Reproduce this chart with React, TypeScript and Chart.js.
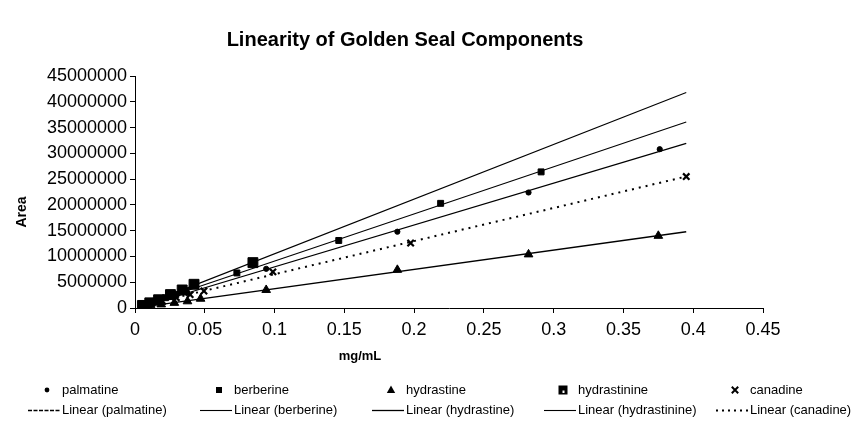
import React, { useEffect, useRef } from "react";
import { Chart, registerables } from "chart.js";

Chart.register(...registerables);

const FONT = '"Liberation Sans", Arial, Helvetica, sans-serif';

const TITLE = "Linearity of Golden Seal Components";
const X_TITLE = "mg/mL";
const Y_TITLE = "Area";

const seriesNames = ["palmatine", "berberine", "hydrastine", "hydrastinine", "canadine"];

const palmatineX = [0.0047, 0.0094, 0.0188, 0.0282, 0.0376, 0.094, 0.188, 0.282, 0.376];
const palmatineY = [300000, 700000, 1400000, 2200000, 2900000, 7600000, 14800000, 22400000, 30800000];

const berberineX = [0.0073, 0.0146, 0.0219, 0.0292, 0.0365, 0.073, 0.146, 0.219, 0.291];
const berberineY = [600000, 1300000, 2000000, 2600000, 3300000, 6800000, 13100000, 20300000, 26400000];

const hydrastineX = [0.0094, 0.0188, 0.0282, 0.0376, 0.047, 0.094, 0.188, 0.282, 0.375];
const hydrastineY = [350000, 700000, 1000000, 1300000, 1800000, 3500000, 7400000, 10400000, 14000000];

const hydrastinineX = [0.0053, 0.0106, 0.0169, 0.0254, 0.0338, 0.0423, 0.0845];
const hydrastinineY = [500000, 1000000, 1600000, 2600000, 3500000, 4600000, 8800000];

const canadineX = [0.0099, 0.0198, 0.0296, 0.0395, 0.0494, 0.0988, 0.1975, 0.395];
const canadineY = [700000, 1300000, 2000000, 2600000, 3300000, 7000000, 12600000, 25500000];

const xTickValues = [0, 0.05, 0.1, 0.15, 0.2, 0.25, 0.3, 0.35, 0.4, 0.45];
const yTickValues = [0, 5000000, 10000000, 15000000, 20000000, 25000000, 30000000, 35000000, 40000000, 45000000];

const seriesX = [palmatineX, berberineX, hydrastineX, hydrastinineX, canadineX];
const seriesY = [palmatineY, berberineY, hydrastineY, hydrastinineY, canadineY];

// marker styles per series
const markerStyles = [
  { pointStyle: "circle", radius: 2.6, borderWidth: 1 },
  { pointStyle: "rect", radius: 4.2, borderWidth: 1 },
  { pointStyle: "triangle", radius: 5, borderWidth: 1 },
  { pointStyle: "rect", radius: 7, borderWidth: 1 },
  { pointStyle: "crossRot", radius: 4.5, borderWidth: 2.2 },
];
const trendStyles = [
  { dash: [], width: 1.3, legendDash: [4, 1.5] },
  { dash: [], width: 1.1, legendDash: [] },
  { dash: [], width: 1.3, legendDash: [] },
  { dash: [], width: 1.1, legendDash: [] },
  { dash: [2, 5], width: 2, legendDash: [2, 4] },
];

function linFit(xs: number[], ys: number[]) {
  const n = xs.length;
  const mx = xs.reduce((a, b) => a + b, 0) / n;
  const my = ys.reduce((a, b) => a + b, 0) / n;
  let sxy = 0;
  let sxx = 0;
  for (let i = 0; i < n; i++) {
    sxy += (xs[i] - mx) * (ys[i] - my);
    sxx += (xs[i] - mx) * (xs[i] - mx);
  }
  const slope = sxy / sxx;
  return { slope, intercept: my - slope * mx };
}

const allX = seriesX.flat();
const trendStart = Math.min(...allX);
const trendEnd = Math.max(...allX);

function drawMarker(ctx: CanvasRenderingContext2D, idx: number, x: number, y: number) {
  ctx.save();
  ctx.fillStyle = "#000";
  ctx.strokeStyle = "#000";
  if (idx === 0) {
    ctx.beginPath();
    ctx.arc(x, y, 2.4, 0, Math.PI * 2);
    ctx.fill();
  } else if (idx === 1) {
    ctx.fillRect(x - 3, y - 3, 6, 6);
  } else if (idx === 2) {
    ctx.beginPath();
    ctx.moveTo(x, y - 4.5);
    ctx.lineTo(x + 4.2, y + 3);
    ctx.lineTo(x - 4.2, y + 3);
    ctx.closePath();
    ctx.fill();
  } else if (idx === 3) {
    ctx.fillRect(x - 4.5, y - 4.5, 9, 9);
    ctx.fillStyle = "#fff";
    ctx.fillRect(x - 0.5, y + 0.5, 2, 2.5);
  } else {
    ctx.lineWidth = 2;
    ctx.beginPath();
    ctx.moveTo(x - 3.2, y - 3.2);
    ctx.lineTo(x + 3.2, y + 3.2);
    ctx.moveTo(x + 3.2, y - 3.2);
    ctx.lineTo(x - 3.2, y + 3.2);
    ctx.stroke();
  }
  ctx.restore();
}

const decorPlugin = {
  id: "decor",
  afterDraw(chart: any) {
    const ctx: CanvasRenderingContext2D = chart.ctx;
    ctx.save();
    ctx.fillStyle = "#000";
    ctx.textAlign = "center";
    ctx.textBaseline = "middle";
    ctx.font = `bold 20px ${FONT}`;
    ctx.fillText(TITLE, 405, 40);
    ctx.font = `bold 13px ${FONT}`;
    ctx.fillText(X_TITLE, 360, 356);
    ctx.save();
    ctx.translate(22, 212);
    ctx.rotate(-Math.PI / 2);
    ctx.font = `bold 14px ${FONT}`;
    ctx.fillText(Y_TITLE, 0, 0);
    ctx.restore();

    // legend
    const colW = 172;
    const row1 = 390;
    const row2 = 410;
    ctx.font = `13px ${FONT}`;
    ctx.textAlign = "left";
    for (let i = 0; i < seriesNames.length; i++) {
      const cx = i * colW;
      drawMarker(ctx, i, cx + 47, row1);
      ctx.fillStyle = "#000";
      ctx.fillText(seriesNames[i], cx + 62, row1);
      ctx.save();
      ctx.strokeStyle = "#000";
      ctx.lineWidth = trendStyles[i].width;
      ctx.setLineDash(trendStyles[i].legendDash);
      ctx.beginPath();
      ctx.moveTo(cx + 28, row2 + 0.5);
      ctx.lineTo(cx + 60, row2 + 0.5);
      ctx.stroke();
      ctx.restore();
      ctx.fillText(`Linear (${seriesNames[i]})`, cx + 62, row2);
    }
    ctx.restore();
  },
};

export default function App() {
  const ref = useRef<HTMLCanvasElement>(null);
  useEffect(() => {
    if (!ref.current) return;
    const datasets: any[] = [];
    seriesNames.forEach((name, i) => {
      const fit = linFit(seriesX[i], seriesY[i]);
      datasets.push({
        label: `Linear (${name})`,
        data: [trendStart, trendEnd].map((x) => ({ x, y: fit.slope * x + fit.intercept })),
        showLine: true,
        borderColor: "#000",
        borderWidth: trendStyles[i].width,
        borderDash: trendStyles[i].dash,
        pointRadius: 0,
        fill: false,
      });
    });
    seriesNames.forEach((name, i) => {
      datasets.push({
        label: name,
        data: seriesX[i].map((x, j) => ({ x, y: seriesY[i][j] })),
        showLine: false,
        pointStyle: markerStyles[i].pointStyle,
        pointRadius: markerStyles[i].radius,
        pointBorderWidth: markerStyles[i].borderWidth,
        backgroundColor: "#000",
        borderColor: "#000",
      });
    });
    const chart = new Chart(ref.current, {
      type: "scatter",
      data: { datasets },
      options: {
        responsive: false,
        animation: false,
        layout: { padding: { left: 0, right: 98, top: 76, bottom: 0 } },
        plugins: { legend: { display: false }, title: { display: false }, tooltip: { enabled: false } },
        scales: {
          x: {
            type: "linear",
            min: 0,
            max: 0.45,
            afterBuildTicks: (s: any) => {
              s.ticks = xTickValues.map((v) => ({ value: v }));
            },
            afterFit: (s: any) => {
              s.height = 117;
            },
            ticks: {
              color: "#000",
              font: { family: FONT, size: 18 },
              padding: 6,
              maxRotation: 0,
              autoSkip: false,
              callback: (v: any) => String(Number(Number(v).toFixed(2))),
            },
            grid: { display: true, drawOnChartArea: false, drawTicks: true, tickLength: 5, color: "#000", lineWidth: 1 },
            border: { display: true, color: "#000", width: 1 },
          },
          y: {
            type: "linear",
            min: 0,
            max: 45000000,
            afterBuildTicks: (s: any) => {
              s.ticks = yTickValues.map((v) => ({ value: v }));
            },
            afterFit: (s: any) => {
              s.width = 135;
            },
            ticks: {
              color: "#000",
              font: { family: FONT, size: 18 },
              padding: 3,
              autoSkip: false,
              callback: (v: any) => String(v),
            },
            grid: { display: true, drawOnChartArea: false, drawTicks: true, tickLength: 5, color: "#000", lineWidth: 1 },
            border: { display: true, color: "#000", width: 1 },
          },
        },
      },
      plugins: [decorPlugin],
    });
    return () => chart.destroy();
  }, []);
  return (
    <div style={{ position: "fixed", left: 0, top: 0, width: 861, height: 425, background: "#fff" }}>
      <canvas ref={ref} width={861} height={425} style={{ display: "block" }} />
    </div>
  );
}
